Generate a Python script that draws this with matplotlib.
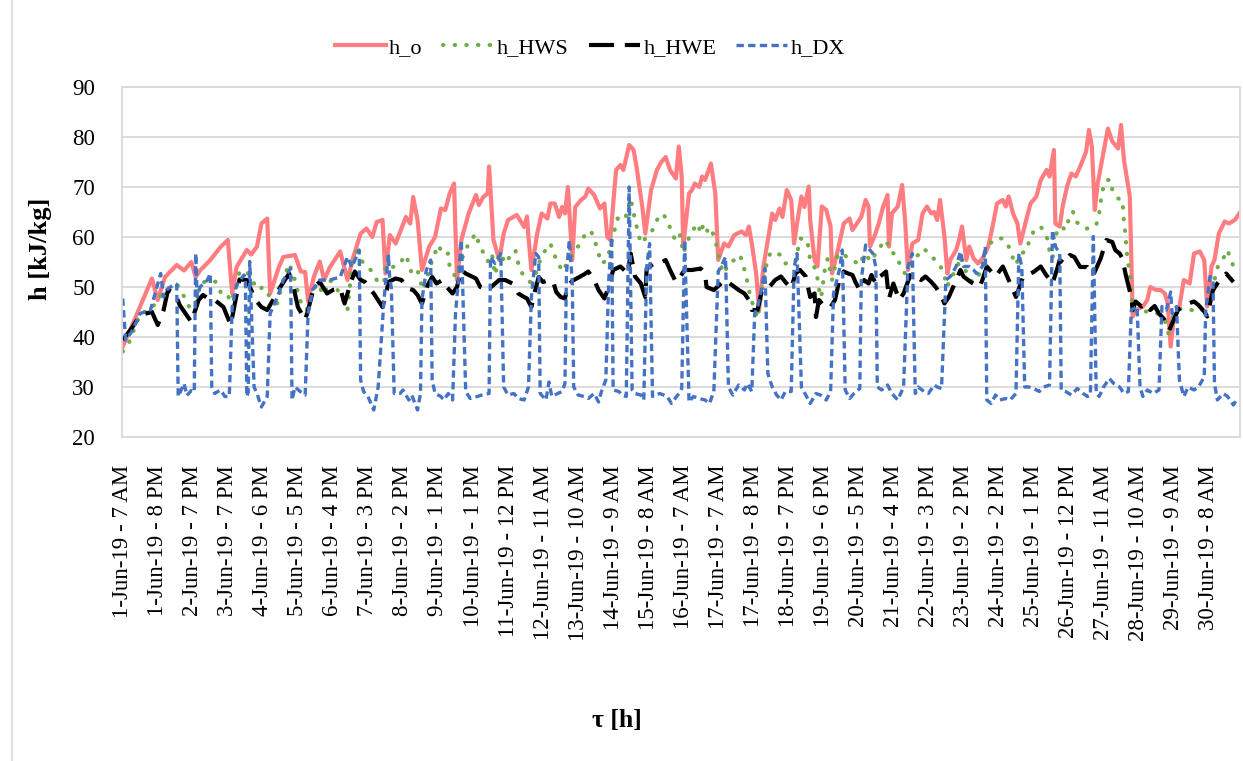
import matplotlib
matplotlib.use("Agg")
import matplotlib.pyplot as plt
from matplotlib.lines import Line2D

plt.rcParams["font.family"] = ["Liberation Serif", "DejaVu Serif"]

# hour index (from 1-Jun-19 7 AM), enthalpy [kJ/kg]
h_o = [(0, 38.1), (7, 42.7), (20, 51.7), (24, 47.4), (29, 52), (37, 54.4), (42, 53.3), (47, 55), (50, 52), (53, 53.3),
       (60, 55.4), (67, 58), (72, 59.4), (75, 48.7), (78, 54), (85, 57.4), (88, 56.5), (92, 58.1), (95, 62.7), (99, 63.7),
       (101, 48.7), (107, 54), (110, 56), (118, 56.4), (122, 53.1), (125, 53), (127, 47.1), (131, 52.1), (135, 55.1),
       (138, 51.4), (142, 54), (149, 57.1), (154, 51.4), (158, 56), (163, 60.7), (167, 61.7), (171, 60), (174, 63),
       (178, 63.4), (180, 52.7), (183, 60.4), (187, 58.7), (194, 64), (197, 62.7), (199, 68), (202, 63.4), (205, 53.4),
       (210, 58.1), (214, 60), (218, 65.7), (221, 65.4), (224, 68.7), (227, 70.7), (229, 51.4), (232, 59.4), (237, 64.7),
       (242, 68.4), (244, 66.4), (247, 68), (250, 68.7), (251, 74.1), (254, 59.4), (258, 55.4), (261, 60.7), (264, 63.4),
       (270, 64.4), (275, 62), (277, 64.1), (278, 60), (280, 53.4), (284, 60.7), (287, 64.7), (291, 63.7), (293, 66.7),
       (296, 66.7), (299, 64), (301, 66), (303, 64.7), (305, 70), (308, 55.4), (310, 66), (314, 67.4), (317, 68.1),
       (319, 69.7), (323, 68.4), (327, 65.7), (330, 66.7), (332, 60), (334, 59.4), (338, 73.4), (341, 74.4), (343, 73.4),
       (347, 78.4), (350, 77.4), (352, 74.1), (356, 66), (358, 60.7), (362, 69.4), (366, 73.4), (369, 75), (372, 76),
       (375, 73.4), (379, 71.7), (381, 78.1), (383, 72), (384, 58.1), (388, 68.7), (390, 69.4), (392, 70.7), (395, 70),
       (397, 72.1), (399, 71.4), (403, 74.7), (406, 68.7), (408, 55.4), (412, 58.7), (415, 58.1), (419, 60.4), (424, 61.1),
       (427, 60.4), (429, 62.1), (431, 58.7), (434, 52.7), (436, 45.4), (439, 54.1), (442, 59.4), (445, 64.7), (447, 63.4),
       (450, 65.7), (452, 64), (455, 69.4), (458, 67.4), (460, 58.7), (462, 62.7), (465, 68.1), (467, 66), (470, 70.1),
       (471, 63.4), (474, 55.4), (476, 54.1), (479, 66.1), (482, 65.4), (485, 62.1), (486, 52.7), (490, 57.4), (494, 62.7),
       (498, 63.7), (500, 61.4), (503, 62.7), (506, 64), (509, 67.4), (511, 66.1), (512, 58.1), (515, 60.1), (518, 62.7),
       (521, 66.1), (524, 68.4), (525, 58.1), (527, 64.7), (531, 66.1), (534, 70.4), (536, 63.4), (538, 53.4), (541, 58.7),
       (545, 59.4), (548, 64.7), (551, 66.1), (554, 64.7), (556, 65), (558, 63.4), (560, 67.4), (563, 60.1), (565, 52.7),
       (567, 55.4), (571, 57.4), (573, 59.4), (575, 62.1), (578, 55.4), (580, 58.1), (583, 55.7), (586, 54.7), (589, 55.7),
       (593, 58.1), (596, 62.1), (599, 66.7), (603, 67.4), (605, 66.1), (607, 68.1), (610, 64.7), (613, 62.7), (615, 58.7),
       (619, 63.4), (622, 66.7), (626, 68.1), (629, 71.4), (633, 73.4), (635, 72.1), (638, 77.4), (639, 62.7), (642, 62.1),
       (644, 66.1), (647, 70.1), (650, 72.7), (653, 72.1), (656, 74.1), (660, 77), (662, 81.4), (664, 78.1), (666, 65.4),
       (668, 70.7), (671, 75.4), (675, 81.7), (678, 79.1), (682, 77.7), (684, 82.4), (686, 75.4), (690, 68.1), (692, 44.1),
       (694, 45.4), (699, 46.1), (702, 47.4), (704, 50), (708, 49.4), (711, 49.4), (714, 48.7), (716, 46.7), (718, 38.1),
       (720, 43.4), (724, 46.1), (727, 51.4), (731, 50.7), (734, 56.7), (738, 57.1), (741, 55.4), (743, 46.1), (746, 54.1),
       (748, 55.4), (751, 60.7), (755, 63.1), (758, 62.7), (762, 63.4), (765, 64.7)]

h_hws = [(0, 37.1), (4, 38.7), (12, 44.7), (19, 45.4), (29, 49.4), (37, 50.7), (40, 49), (43, 47.7), (46, 45.7), (50, 46.7),
         (53, 50.7), (60, 51.4), (64, 51), (67, 49), (71, 49), (74, 47), (78, 50), (80, 53.1), (85, 53.1), (90, 50.7),
         (93, 49.4), (96, 50), (101, 48), (106, 46.7), (110, 51.4), (114, 54.7), (118, 51.4), (120, 49), (122, 47),
         (126, 45.4), (130, 48.7), (133, 50.7), (138, 48.4), (142, 51.4), (149, 48.7), (154, 45.4), (157, 54), (160, 57.1),
         (165, 54.7), (171, 53.1), (174, 51.4), (179, 50.7), (180, 54), (182, 56), (185, 54), (189, 54.4), (194, 56.4),
         (196, 54.7), (198, 52.7), (202, 53.4), (204, 51), (206, 49.4), (211, 54.4), (216, 58.4), (220, 56.4), (223, 56.7),
         (224, 54), (228, 52), (231, 54.7), (237, 58.7), (242, 60.7), (244, 58.7), (250, 55.1), (253, 56.7), (255, 52.4),
         (259, 56.7), (262, 54.7), (266, 56.4), (269, 57.4), (272, 53.4), (277, 51.5), (279, 51), (282, 51.7), (286, 55.4),
         (289, 57.1), (293, 58.7), (298, 54.7), (302, 53.1), (305, 55.4), (309, 56.7), (314, 59.1), (318, 61.1), (321, 61.1),
         (324, 58.7), (326, 56.7), (328, 54.7), (332, 55.4), (335, 59.1), (339, 63.7), (344, 63.4), (348, 67.7), (351, 63.4),
         (355, 58.7), (359, 60), (363, 61.4), (366, 63.4), (370, 64.7), (373, 63.4), (376, 61.1), (379, 59.1), (382, 60.4),
         (384, 56.7), (389, 60.7), (394, 62.7), (396, 60.7), (398, 62.7), (402, 60.4), (404, 61.1), (407, 58.1), (410, 54.1),
         (412, 52.7), (415, 54.7), (419, 55.4), (423, 56.4), (427, 52.4), (430, 48), (435, 43.7), (438, 49.4), (442, 56),
         (445, 57.1), (448, 56.7), (451, 56.4), (454, 54.7), (458, 55), (461, 55), (464, 59.7), (469, 59.4), (471, 55.4),
         (475, 53.4), (477, 50), (478, 46.7), (481, 53.4), (483, 55.7), (486, 51.4), (490, 56.7), (494, 56.4), (500, 55.4),
         (505, 54.4), (508, 56.7), (513, 55.1), (517, 57.4), (523, 59.4), (526, 57.1), (530, 56.4), (533, 54.1), (536, 52.7),
         (540, 55.1), (546, 56.7), (549, 57.7), (554, 56), (557, 55.4), (560, 54.4), (563, 52.1), (565, 50), (567, 52),
         (571, 53.1), (574, 56.1), (579, 52.1), (582, 51), (586, 52), (589, 54.1), (592, 58.1), (598, 59.7), (603, 59.7),
         (607, 58.1), (610, 55.7), (612, 54.4), (615, 56.7), (619, 57.1), (621, 59.1), (624, 61.1), (629, 62.1), (634, 59.4),
         (635, 57.1), (637, 55.7), (640, 61.1), (643, 62.1), (646, 61.4), (648, 63.4), (651, 65.1), (653, 63.1), (659, 61.7),
         (663, 61.7), (667, 62.4), (669, 64.7), (671, 69.1), (674, 71.4), (677, 71.4), (678, 69.4), (682, 67.7), (685, 67.4),
         (686, 62.7), (687, 60.7), (688, 56.7), (690, 52.4), (692, 45.4), (695, 45.1), (702, 45.1), (709, 44.7), (714, 43.4),
         (717, 40.1), (720, 44.7), (725, 45.7), (732, 45.4), (739, 45.1), (743, 47.1), (747, 48.7), (749, 53.4), (754, 55.7),
         (757, 57.4), (759, 55.4), (763, 53.1), (765, 53)]

h_hwe = [(0, 39.4), (6, 41.7), (12, 44.4), (20, 45), (24, 42.4), (28, 45.4), (31, 49.4), (36, 48.7), (39, 46.4), (47, 43),
         (52, 47.4), (55, 48.4), (60, 47.4), (63, 47.4), (69, 46), (74, 42.4), (76, 45.4), (80, 51.5), (85, 51.4), (91, 47.4),
         (95, 46), (99, 45.4), (103, 47.4), (108, 50), (114, 52.7), (117, 50), (120, 46), (125, 43.4), (127, 45.4), (131, 50),
         (135, 51), (140, 48.7), (144, 49.4), (149, 49.7), (152, 46.7), (156, 50.7), (159, 53.1), (163, 51.4), (166, 51),
         (170, 49.4), (172, 48.7), (178, 46), (181, 49.4), (182, 51), (187, 51.7), (191, 51.4), (195, 49.7), (199, 49.4),
         (202, 48.4), (205, 46.7), (209, 50.4), (212, 52), (215, 50.7), (219, 51.4), (222, 50), (226, 48.7), (229, 50),
         (232, 53.4), (235, 52.7), (242, 51.7), (245, 50), (250, 49.4), (254, 50.4), (258, 51.4), (262, 51.4), (267, 50.7),
         (271, 48.7), (275, 48), (277, 47.7), (280, 46), (282, 48.7), (285, 52), (288, 51), (292, 51.4), (295, 51), (297, 49),
         (300, 48), (303, 47.7), (305, 50.4), (309, 51.4), (311, 51.7), (316, 52.5), (319, 53.1), (323, 51.4), (326, 49.4),
         (330, 47.7), (333, 50), (336, 53.4), (341, 54.1), (346, 52.7), (348, 56.7), (351, 52.1), (355, 50.7), (358, 48),
         (359, 53.7), (364, 54.7), (368, 54.7), (372, 55.4), (375, 53.4), (379, 51), (382, 52.1), (385, 53.4), (390, 53.4),
         (396, 53.7), (399, 52.7), (400, 50), (405, 49.4), (410, 50.7), (413, 51.4), (416, 50.7), (422, 49.4), (426, 48.7),
         (429, 47.4), (431, 45.4), (435, 45.4), (438, 49.4), (443, 50), (447, 51.4), (451, 52.1), (454, 51), (458, 49.7),
         (461, 52.7), (464, 53.4), (468, 52.1), (471, 48), (474, 48.7), (475, 44), (477, 47.4), (481, 46), (485, 46),
         (488, 47.4), (491, 51.4), (494, 53.1), (497, 52.7), (500, 52.4), (502, 51), (505, 49.4), (508, 51.4), (511, 50.7),
         (513, 52.4), (516, 50.7), (519, 52.1), (523, 53.1), (525, 47.7), (528, 50.7), (532, 47.4), (535, 48.7), (540, 52.7),
         (543, 52.1), (547, 51.4), (550, 52.1), (554, 51), (557, 50), (560, 48.7), (563, 46.7), (566, 48), (571, 51.4),
         (574, 53.4), (576, 52.1), (581, 51), (587, 50), (589, 51.4), (592, 54.1), (598, 52.1), (603, 54.1), (606, 52.1),
         (610, 49.4), (612, 48), (617, 52.1), (620, 52.4), (624, 53), (629, 54.1), (632, 52.7), (637, 50.7), (640, 53.4),
         (642, 55.4), (645, 54.7), (649, 56.4), (652, 56), (656, 54), (661, 54), (665, 52.4), (670, 55.7), (674, 59.4),
         (678, 59), (680, 57.4), (683, 56.7), (685, 55.7), (687, 52.7), (691, 48), (692, 45.4), (694, 47.1), (698, 46.1),
         (701, 46.7), (704, 45.4), (707, 46.2), (710, 44.7), (714, 43.4), (717, 41.4), (719, 42.7), (723, 45.4), (726, 46.1),
         (730, 46.7), (734, 47.1), (737, 46.4), (741, 45.1), (743, 44.1), (747, 49.4), (750, 50.7), (754, 52.1), (756, 52.7),
         (759, 51.7), (761, 51)]

h_dx = [(0, 47.7), (2, 39.4), (6, 41), (12, 44.7), (19, 45.4), (26, 52.7), (28, 48), (30, 49.4), (36, 50.7), (37, 50.5),
        (38, 28.1), (39, 28.7), (42, 30.7), (44, 28.3), (47, 29.3), (49, 29), (50, 56.7), (51, 48), (53, 50), (58, 51.4),
        (60, 52.7), (61, 30), (63, 28.7), (67, 29.4), (70, 28.1), (73, 28.1), (75, 46), (78, 50.4), (83, 52.4), (84, 52),
        (85, 28.1), (86, 29), (87, 55.1), (90, 30), (92, 28.7), (95, 26), (99, 28.1), (101, 44.7), (106, 48), (110, 51.4),
        (115, 53.7), (116, 27.4), (118, 30), (122, 29), (125, 28.4), (127, 44.7), (130, 49.4), (135, 51.4), (142, 51.4),
        (149, 52), (154, 56), (157, 54), (162, 57.4), (163, 31.4), (165, 29.1), (168, 28.1), (172, 25.4), (175, 30),
        (179, 47.4), (182, 56.5), (183, 51.4), (184, 50), (186, 28.7), (190, 28.7), (192, 29.4), (196, 27.4), (198, 28.4),
        (202, 25.4), (204, 28.7), (205, 47.4), (208, 53.4), (211, 55.4), (212, 31.4), (214, 28.7), (218, 28.1), (220, 27.4),
        (223, 28.7), (226, 27.4), (228, 44.7), (230, 51.4), (232, 59.4), (235, 29.1), (238, 27.7), (243, 28.1), (246, 28.4),
        (251, 28.7), (252, 56), (255, 54.7), (259, 56.7), (261, 30), (264, 28.4), (268, 28.7), (271, 27.7), (275, 27.4),
        (278, 30), (280, 48), (283, 56.7), (285, 56), (286, 28.7), (290, 27.4), (292, 31), (294, 28.1), (298, 28.7),
        (301, 29.1), (303, 30.7), (304, 52.7), (306, 59.4), (308, 51), (309, 30), (312, 28.4), (316, 28.1), (319, 27.7),
        (323, 28.7), (326, 27), (328, 29.1), (331, 31.4), (333, 51.4), (335, 60), (336, 29.4), (340, 29.1), (342, 28.4),
        (345, 28.1), (347, 70), (349, 29.4), (351, 28.7), (355, 28.4), (357, 27.4), (359, 54), (361, 58.7), (363, 28.1),
        (365, 28.4), (368, 28.7), (373, 28.1), (376, 26.7), (381, 28.7), (383, 29.7), (385, 59.4), (388, 27), (391, 28.1),
        (395, 27.7), (399, 27.4), (402, 26.7), (405, 29.1), (408, 53.1), (410, 54.1), (413, 56), (415, 30), (418, 28.4),
        (422, 30.4), (426, 29.4), (428, 30.7), (431, 29.1), (433, 44.7), (435, 46), (438, 50), (440, 53.7), (442, 32.7),
        (445, 30), (448, 28.4), (451, 27.4), (454, 29.1), (458, 29.1), (460, 54), (462, 56.7), (465, 30), (468, 28.4),
        (471, 26.7), (475, 28.7), (478, 28.4), (482, 27.4), (485, 29.1), (487, 48.7), (491, 53.4), (493, 57.4), (495, 29.4),
        (498, 27.7), (501, 28.7), (505, 29.7), (506, 51.4), (509, 58.4), (511, 57.7), (514, 56.7), (516, 54), (517, 30),
        (520, 29.4), (524, 30.4), (527, 28.7), (531, 27.4), (533, 28.7), (535, 30), (538, 54.1), (541, 56.7), (543, 28.7),
        (545, 30), (549, 29.1), (552, 28.7), (556, 30.4), (558, 30), (561, 29.7), (564, 51.4), (567, 52.1), (571, 54.1),
        (574, 57.1), (576, 54.1), (580, 54.1), (583, 53.4), (585, 52.7), (589, 54.1), (591, 58.1), (592, 27.4), (595, 26.7),
        (598, 28.4), (601, 27.4), (605, 27.7), (608, 27.4), (612, 28.7), (614, 56.7), (616, 54), (618, 30), (621, 30),
        (624, 29.7), (628, 29.1), (631, 30), (635, 30.4), (637, 61.4), (639, 58.1), (642, 56.7), (643, 29.4), (646, 29.1),
        (650, 28.4), (654, 29.7), (658, 28.7), (661, 28.1), (663, 28.4), (665, 60.1), (667, 28.7), (669, 28.1), (672, 30),
        (676, 31.7), (679, 30.7), (683, 30), (686, 28.7), (689, 29.1), (691, 45.4), (695, 46.1), (697, 30), (699, 28.1),
        (702, 29.4), (706, 28.7), (710, 29.4), (712, 46.1), (715, 45.4), (718, 49), (719, 44.7), (722, 46.1), (724, 31.4),
        (727, 28.1), (730, 30), (734, 29.4), (737, 30), (741, 32), (742, 45.4), (745, 52.1), (747, 51.4), (748, 30.7),
        (750, 27.4), (754, 28.7), (757, 28.1), (761, 26.4), (763, 27.4), (765, 27.4)]

n_hours = 766
label_step = 24
tick_labels = ["1-Jun-19 - 7 AM", "1-Jun-19 - 8 PM", "2-Jun-19 - 7 PM", "3-Jun-19 - 7 PM", "4-Jun-19 - 6 PM",
               "5-Jun-19 - 5 PM", "6-Jun-19 - 4 PM", "7-Jun-19 - 3 PM", "8-Jun-19 - 2 PM", "9-Jun-19 - 1 PM",
               "10-Jun-19 - 1 PM", "11-Jun-19 - 12 PM", "12-Jun-19 - 11 AM", "13-Jun-19 - 10 AM", "14-Jun-19 - 9 AM",
               "15-Jun-19 - 8 AM", "16-Jun-19 - 7 AM", "17-Jun-19 - 7 AM", "17-Jun-19 - 8 PM", "18-Jun-19 - 7 PM",
               "19-Jun-19 - 6 PM", "20-Jun-19 - 5 PM", "21-Jun-19 - 4 PM", "22-Jun-19 - 3 PM", "23-Jun-19 - 2 PM",
               "24-Jun-19 - 2 PM", "25-Jun-19 - 1 PM", "26-Jun-19 - 12 PM", "27-Jun-19 - 11 AM", "28-Jun-19 - 10 AM",
               "29-Jun-19 - 9 AM", "30-Jun-19 - 8 AM"]

COLORS = {"h_o": "#FF7C80", "h_HWS": "#70AD47", "h_HWE": "#000000", "h_DX": "#4472C4", "grid": "#D9D9D9"}

W, H = 1243, 761
fig = plt.figure(figsize=(W / 100, H / 100), dpi=100)
fig.patch.set_facecolor("white")
# chart-area border (only the left edge is inside the crop)
fig.add_artist(Line2D([12 / W, 12 / W], [0, 1], transform=fig.transFigure, color=COLORS["grid"], linewidth=1.2))

ax = fig.add_axes([122 / W, 1 - 437 / H, (1240 - 122) / W, (437 - 87) / H])

styles = [
    ("h_o", h_o, dict(linestyle="-", linewidth=3.0)),
    ("h_HWS", h_hws, dict(linestyle=(0, (0.1, 2.7)), linewidth=3.0, dash_capstyle="round")),
    ("h_HWE", h_hwe, dict(linestyle=(0, (6, 2.6)), linewidth=3.0)),
    ("h_DX", h_dx, dict(linestyle=(0, (2.2, 1.3)), linewidth=2.4)),
]
for name, series, kw in styles:
    t, v = zip(*series)
    ax.plot(t, v, color=COLORS[name], label=name, **kw)

ax.set_xlim(-0.5, n_hours - 0.5)
ax.set_ylim(20, 90)
ax.set_yticks(range(20, 91, 10))
ax.set_xticks(range(0, label_step * len(tick_labels), label_step))
ax.set_xticklabels(tick_labels, rotation=90)
ax.tick_params(axis="both", length=0, labelsize=16.5, colors="black")
ax.tick_params(axis="x", pad=20)
ax.tick_params(axis="y", pad=19.5)
ax.grid(axis="y", color=COLORS["grid"], linewidth=1.3)
ax.set_axisbelow(True)
for spine in ax.spines.values():
    spine.set_color(COLORS["grid"])
    spine.set_linewidth(1.3)

fig.text(40 / W, 1 - 249 / H, "h [kJ/kg]", rotation=90, ha="center", va="center",
         fontsize=19, fontweight="bold")
fig.text(617 / W, 1 - 720 / H, "τ [h]", ha="center", va="center", fontsize=18.5, fontweight="bold")

fig.legend(loc="center", bbox_to_anchor=(590 / W, 1 - 48 / H), ncol=4, frameon=False,
           fontsize=16, handlelength=2.3, handletextpad=0.15, columnspacing=0.9)

fig.savefig("out.png", dpi=100)
